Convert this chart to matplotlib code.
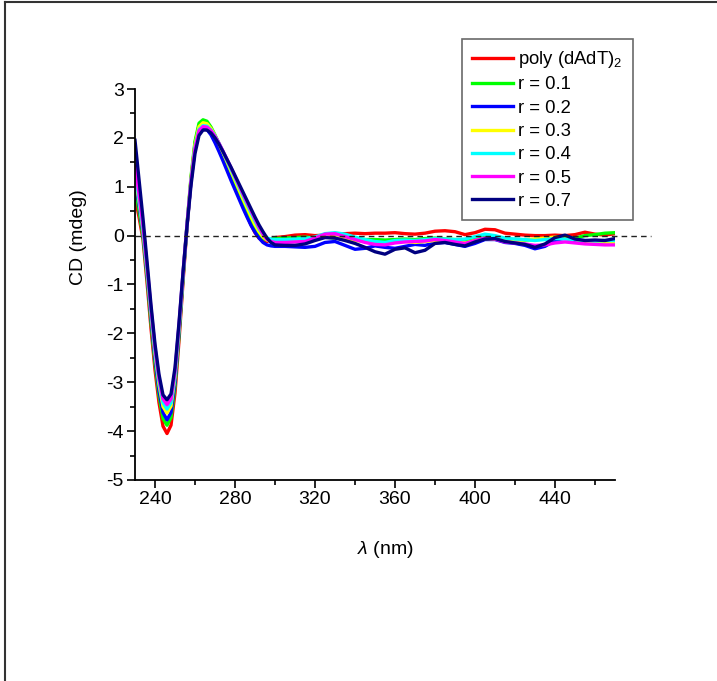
import matplotlib
matplotlib.use("Agg")
from matplotlib import pyplot as plt
from matplotlib.lines import Line2D
from matplotlib.ticker import MultipleLocator

plt.rcParams['font.family'] = ['Liberation Sans', 'DejaVu Sans']
plt.rcParams['mathtext.fontset'] = 'custom'
plt.rcParams['mathtext.rm'] = 'Liberation Sans'
plt.rcParams['mathtext.it'] = 'Liberation Sans:italic'
plt.rcParams['axes.unicode_minus'] = False

# 波长 (nm): 230-300 每 2 nm, 305-470 每 5 nm
wl = list(range(230, 301, 2)) + list(range(305, 471, 5))

poly = [0.80, 0.38, -0.08, -0.95, -1.90, -2.75, -3.42, -3.90, -4.05, -3.88, -3.22, -2.15,
        -0.95, 0.18, 1.15, 1.88, 2.25, 2.32, 2.30, 2.18, 2.03, 1.85, 1.65, 1.45,
        1.24, 1.03, 0.82, 0.61, 0.41, 0.22, 0.06, -0.05, -0.11, -0.12, -0.08, -0.04,
        -0.02, 0.01, 0.02, 0.00, 0.01, 0.04, 0.04, 0.05, 0.04, 0.05, 0.05, 0.06,
        0.04, 0.03, 0.05, 0.09, 0.10, 0.08, 0.02, 0.06, 0.13, 0.12, 0.05, 0.03,
        0.01, 0.00, 0.00, 0.01, 0.00, 0.02, 0.07, 0.03, 0.01, 0.04]
r01 = [1.00, 0.50, -0.02, -0.85, -1.78, -2.62, -3.28, -3.74, -3.88, -3.72, -3.08, -2.05,
       -0.88, 0.22, 1.20, 1.93, 2.30, 2.37, 2.34, 2.22, 2.06, 1.88, 1.68, 1.48,
       1.28, 1.08, 0.88, 0.68, 0.48, 0.30, 0.14, 0.02, -0.06, -0.09, -0.08, -0.06,
       -0.05, -0.04, -0.03, -0.05, -0.03, -0.05, -0.06, -0.07, -0.08, -0.08, -0.09, -0.08,
       -0.07, -0.08, -0.06, -0.05, -0.07, -0.08, -0.09, -0.06, -0.04, -0.06, -0.09, -0.08,
       -0.09, -0.08, -0.06, -0.04, -0.03, -0.05, 0.00, 0.02, 0.05, 0.06]
r02 = [1.15, 0.62, 0.05, -0.78, -1.68, -2.52, -3.18, -3.62, -3.77, -3.62, -3.00, -1.98,
       -0.84, 0.20, 1.12, 1.80, 2.14, 2.20, 2.17, 2.06, 1.90, 1.72, 1.53, 1.33,
       1.13, 0.94, 0.75, 0.56, 0.38, 0.21, 0.07, -0.05, -0.14, -0.19, -0.21, -0.22,
       -0.22, -0.23, -0.24, -0.22, -0.14, -0.12, -0.20, -0.28, -0.26, -0.21, -0.24, -0.26,
       -0.22, -0.18, -0.20, -0.15, -0.14, -0.18, -0.22, -0.16, -0.08, -0.08, -0.14, -0.16,
       -0.20, -0.27, -0.22, -0.10, -0.05, -0.10, -0.15, -0.16, -0.14, -0.13]
r03 = [1.25, 0.70, 0.10, -0.72, -1.60, -2.42, -3.05, -3.50, -3.63, -3.49, -2.90, -1.90,
       -0.80, 0.23, 1.16, 1.86, 2.23, 2.31, 2.29, 2.19, 2.05, 1.88, 1.70, 1.51,
       1.32, 1.13, 0.94, 0.75, 0.57, 0.39, 0.22, 0.08, -0.03, -0.09, -0.11, -0.12,
       -0.12, -0.10, -0.10, -0.08, -0.02, -0.04, -0.08, -0.10, -0.12, -0.14, -0.15, -0.12,
       -0.12, -0.14, -0.12, -0.10, -0.12, -0.13, -0.15, -0.10, -0.06, -0.07, -0.10, -0.10,
       -0.08, -0.07, -0.05, -0.03, -0.05, -0.08, -0.12, -0.12, -0.14, -0.14]
r04 = [1.30, 0.75, 0.14, -0.67, -1.55, -2.36, -2.98, -3.42, -3.55, -3.42, -2.84, -1.86,
       -0.78, 0.23, 1.12, 1.80, 2.17, 2.25, 2.24, 2.16, 2.04, 1.89, 1.72, 1.54,
       1.36, 1.18, 1.00, 0.82, 0.64, 0.47, 0.30, 0.14, 0.02, -0.05, -0.07, -0.08,
       -0.08, -0.07, -0.06, -0.03, 0.04, 0.06, 0.03, -0.03, -0.08, -0.12, -0.14, -0.10,
       -0.09, -0.10, -0.08, -0.06, -0.07, -0.08, -0.07, -0.02, 0.03, 0.00, -0.05, -0.07,
       -0.08, -0.10, -0.08, -0.06, -0.07, -0.08, -0.10, -0.11, -0.10, -0.10]
r05 = [1.42, 0.85, 0.20, -0.62, -1.50, -2.30, -2.92, -3.34, -3.46, -3.34, -2.78, -1.82,
       -0.76, 0.23, 1.11, 1.78, 2.15, 2.23, 2.22, 2.15, 2.03, 1.89, 1.73, 1.56,
       1.39, 1.21, 1.03, 0.85, 0.68, 0.51, 0.34, 0.17, 0.03, -0.08, -0.12, -0.14,
       -0.14, -0.13, -0.12, -0.05, 0.03, 0.04, -0.02, -0.08, -0.14, -0.18, -0.19, -0.15,
       -0.13, -0.12, -0.11, -0.08, -0.10, -0.13, -0.16, -0.10, -0.05, -0.07, -0.13, -0.15,
       -0.17, -0.20, -0.19, -0.15, -0.13, -0.15, -0.17, -0.18, -0.19, -0.19]
r07 = [1.95, 1.15, 0.35, -0.52, -1.42, -2.22, -2.84, -3.26, -3.36, -3.24, -2.70, -1.78,
       -0.76, 0.19, 1.03, 1.68, 2.05, 2.16, 2.16, 2.10, 2.00, 1.87, 1.72, 1.56,
       1.40, 1.23, 1.06, 0.89, 0.72, 0.55, 0.38, 0.22, 0.08, -0.05, -0.14, -0.19,
       -0.20, -0.20, -0.17, -0.10, -0.04, -0.05, -0.10, -0.16, -0.24, -0.33, -0.38, -0.28,
       -0.25, -0.35, -0.30, -0.16, -0.14, -0.18, -0.21, -0.13, -0.07, -0.06, -0.12, -0.15,
       -0.18, -0.24, -0.17, -0.04, 0.01, -0.07, -0.10, -0.09, -0.10, -0.06]

series = [poly, r01, r02, r03, r04, r05, r07]
labels = ["poly (dAdT)$_2$", "r = 0.1", "r = 0.2", "r = 0.3", "r = 0.4", "r = 0.5", "r = 0.7"]
colors = ["#ff0000", "#00ff00", "#0000ff", "#ffff00", "#00ffff", "#ff00ff", "#000080"]

fig = plt.figure(figsize=(7.17, 6.81), dpi=100)
ax = fig.add_axes([0.1883, 0.2952, 0.6694, 0.5741])

for y, lab, c in zip(series, labels, colors):
    ax.plot(wl, y, color=c, lw=2.4, label=lab)

# 零线 (延伸到坐标轴外)
ax.plot([230, 488], [0, 0], color="#222222", lw=1.0, ls=(0, (4, 3)), clip_on=False)

ax.set_xlim(230, 470)
ax.set_ylim(-5, 3)
ax.set_xticks(range(240, 441, 40))
ax.xaxis.set_minor_locator(MultipleLocator(20))
ax.yaxis.set_major_locator(MultipleLocator(1))
ax.yaxis.set_minor_locator(MultipleLocator(0.5))

ax.spines['top'].set_visible(False)
ax.spines['right'].set_visible(False)
for s in ['left', 'bottom']:
    ax.spines[s].set_linewidth(1.3)

ax.tick_params(which='major', direction='out', length=6, width=1.2, labelsize=14, pad=2)
ax.tick_params(which='minor', direction='out', length=3.5, width=1.2)

ax.set_ylabel("CD (mdeg)", fontsize=14)
ax.yaxis.set_label_coords(-0.1, 0.621)
ax.set_xlabel(r"$\lambda$ (nm)", fontsize=14)
ax.xaxis.set_label_coords(0.521, -0.15)

leg = ax.legend(loc='upper left', bbox_to_anchor=(0.644, 0.9427), bbox_transform=fig.transFigure,
                fontsize=13.3, frameon=True, fancybox=False, edgecolor="#444444",
                borderaxespad=0, borderpad=0.55, handlelength=2.2, handletextpad=0.3,
                labelspacing=0.34)
leg.get_frame().set_linewidth(1.2)
for line in leg.get_lines():
    line.set_linewidth(2.4)

# 外框
fig.add_artist(Line2D([5 / 717, 1], [1 - 1.5 / 681] * 2, transform=fig.transFigure, color="#333333", lw=1.5))
fig.add_artist(Line2D([5 / 717] * 2, [0, 1 - 1.5 / 681], transform=fig.transFigure, color="#333333", lw=1.5))

fig.savefig("out.png", dpi=100)
